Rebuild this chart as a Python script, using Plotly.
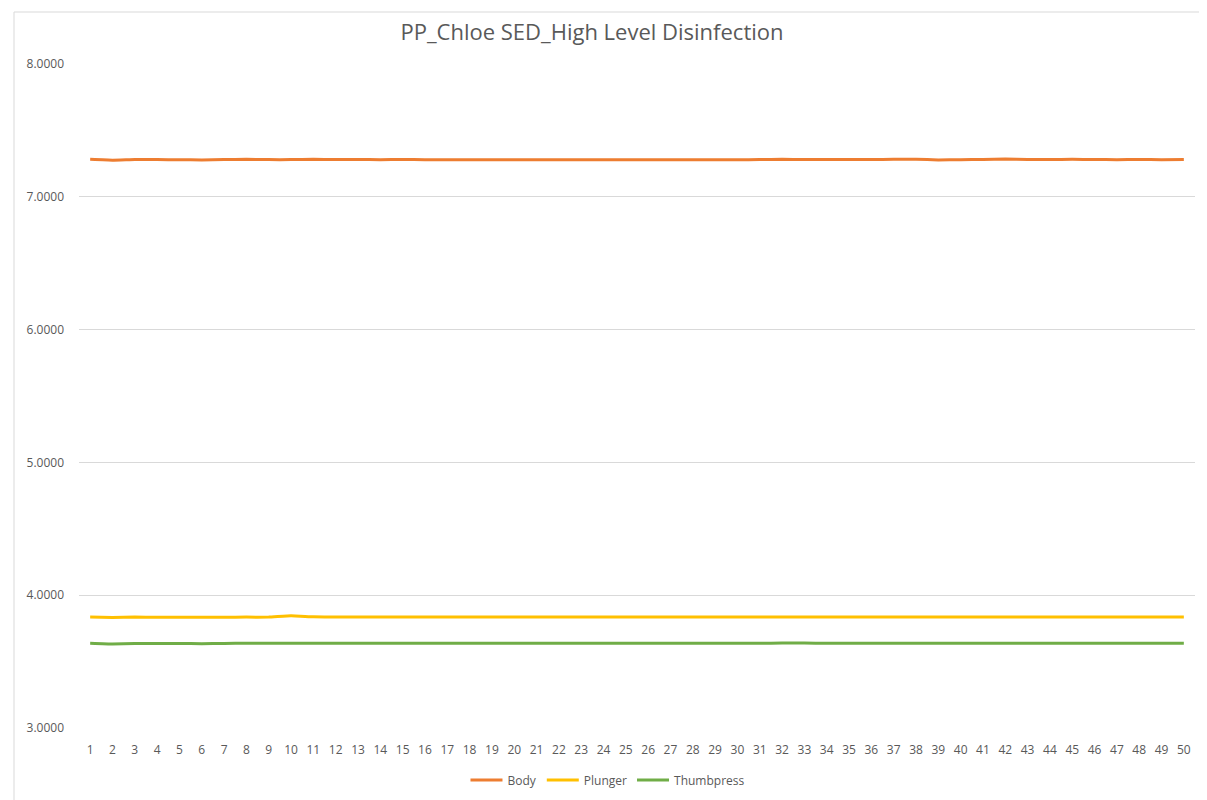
import plotly.graph_objects as go

categories = list(range(1, 51))

body = [7.282, 7.276, 7.281, 7.280, 7.279, 7.278, 7.280, 7.282, 7.280, 7.280,
        7.283, 7.280, 7.281, 7.279, 7.281, 7.279, 7.279, 7.279, 7.279, 7.279,
        7.279, 7.279, 7.279, 7.279, 7.279, 7.279, 7.279, 7.279, 7.279, 7.279,
        7.280, 7.282, 7.280, 7.280, 7.280, 7.280, 7.282, 7.282, 7.278, 7.279,
        7.281, 7.284, 7.281, 7.281, 7.282, 7.281, 7.279, 7.281, 7.279, 7.281]

plunger = [3.835, 3.832, 3.835, 3.834, 3.834, 3.834, 3.834, 3.835, 3.835, 3.845,
           3.837, 3.836, 3.836, 3.835, 3.836, 3.835, 3.835, 3.835, 3.835, 3.835,
           3.835, 3.835, 3.835, 3.835, 3.835, 3.835, 3.835, 3.835, 3.835, 3.835,
           3.835, 3.836, 3.836, 3.835, 3.835, 3.835, 3.835, 3.835, 3.835, 3.835,
           3.835, 3.836, 3.835, 3.835, 3.836, 3.835, 3.835, 3.836, 3.835, 3.835]

thumbpress = [3.638, 3.632, 3.636, 3.637, 3.637, 3.635, 3.637, 3.638, 3.638, 3.638,
              3.638, 3.638, 3.639, 3.638, 3.639, 3.638, 3.639, 3.638, 3.638, 3.638,
              3.638, 3.638, 3.638, 3.638, 3.638, 3.638, 3.638, 3.638, 3.638, 3.638,
              3.638, 3.640, 3.640, 3.638, 3.638, 3.638, 3.638, 3.639, 3.638, 3.638,
              3.638, 3.639, 3.638, 3.638, 3.639, 3.638, 3.638, 3.639, 3.639, 3.638]

series = [("Body", body, "#ED7D31"),
          ("Plunger", plunger, "#FFC000"),
          ("Thumbpress", thumbpress, "#70AD47")]

y_ticks = [3, 4, 5, 6, 7, 8]
y_labels = ["3.0000", "4.0000", "5.0000", "6.0000", "7.0000", "8.0000"]

FONT = "Open Sans, Liberation Sans, sans-serif"
GRAY = "#595959"

W, H = 1199, 792
ML, MR, MT, MB = 71, 12, 56, 72
PW = W - ML - MR
PH = H - MT - MB

fig = go.Figure()
for name, vals, color in series:
    fig.add_trace(go.Scatter(x=categories, y=vals, name=name, mode="lines",
                             line=dict(color=color, width=3, shape="spline", smoothing=0.3)))

bx0 = -65 / PW
bx1 = 1 + 30 / PW
by0 = -(MB + 20) / PH
by1 = 1 + 52 / PH
border = dict(color="#D9D9D9", width=1)

fig.update_layout(
    width=W, height=H,
    paper_bgcolor="white", plot_bgcolor="white",
    margin=dict(l=ML, r=MR, t=MT, b=MB, autoexpand=False),
    title=dict(text="PP_Chloe SED_High Level Disinfection", x=584 / W, xanchor="center",
               y=1 - 24 / H, yanchor="middle",
               font=dict(family=FONT, size=22, color=GRAY)),
    font=dict(family=FONT, size=12, color=GRAY),
    showlegend=True,
    legend=dict(orientation="h", x=0.474, xanchor="center", xref="paper",
                y=(H - 772) / H, yref="container", yanchor="middle",
                font=dict(family=FONT, size=12, color=GRAY),
                itemwidth=32, tracegroupgap=0),
    xaxis=dict(range=[0.5, 50.5], tickmode="array", tickvals=categories,
               ticktext=[str(c) for c in categories], showgrid=False,
               showline=False, zeroline=False, ticks="", automargin=False,
               tickfont=dict(family=FONT, size=12, color=GRAY),
               ticklabelstandoff=13),
    yaxis=dict(range=[3, 8], tickmode="array", tickvals=y_ticks, ticktext=y_labels,
               showgrid=True, gridcolor="#D9D9D9", gridwidth=1,
               showline=False, zeroline=False, ticks="", automargin=False,
               tickfont=dict(family=FONT, size=12, color=GRAY),
               ticklabelstandoff=14),
    shapes=[
        dict(type="line", xref="paper", yref="paper", x0=bx0, x1=bx0, y0=by0, y1=by1,
             line=border, layer="below"),
        dict(type="line", xref="paper", yref="paper", x0=bx0, x1=bx1, y0=by1, y1=by1,
             line=border, layer="below"),
    ],
)

fig.write_html("out.html")
